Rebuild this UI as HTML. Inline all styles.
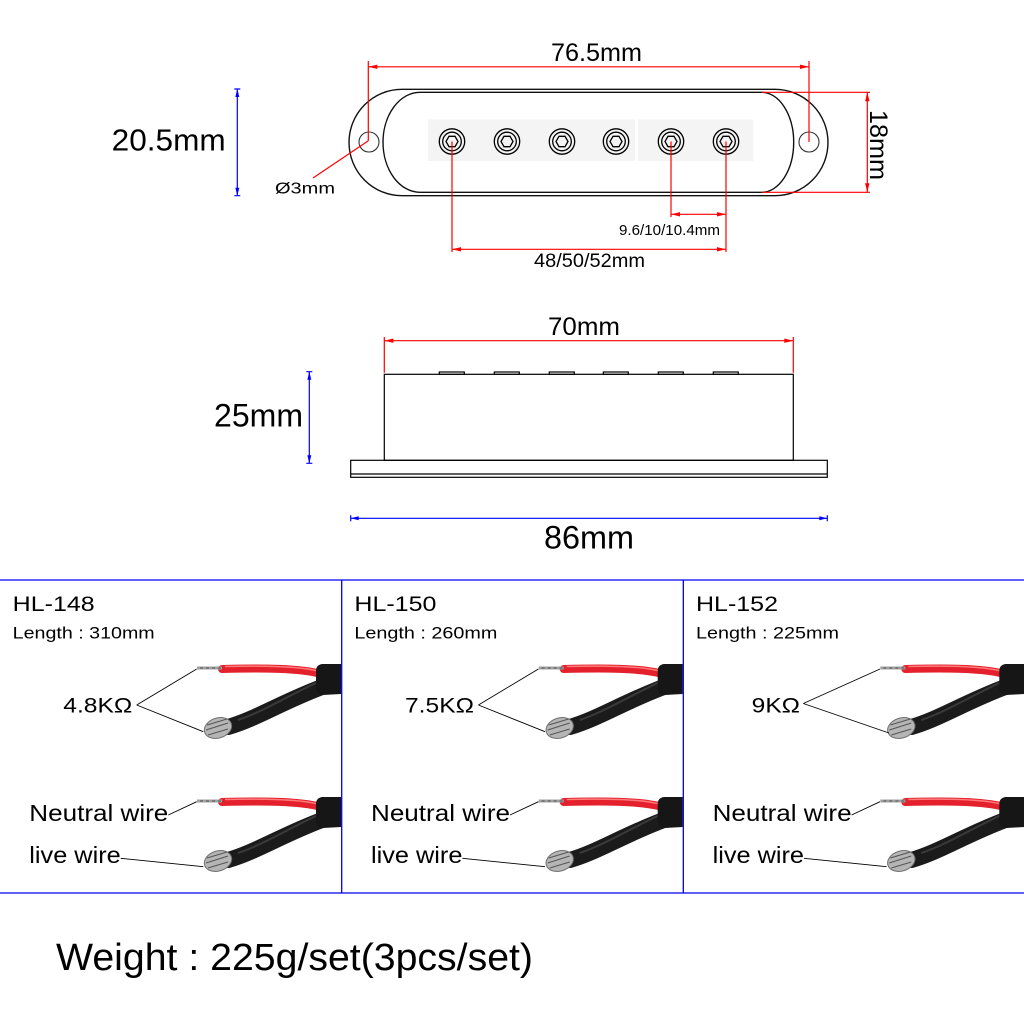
<!DOCTYPE html>
<html><head><meta charset="utf-8"><style>
html,body{margin:0;padding:0;background:#fff;}
svg{display:block}
text{font-family:"Liberation Sans","Noto Sans CJK SC",sans-serif;fill:#000}
</style></head><body>
<svg width="1024" height="1024" viewBox="0 0 1024 1024" xmlns="http://www.w3.org/2000/svg">
<rect width="1024" height="1024" fill="#fff"/>

<!-- ===== TOP VIEW ===== -->
<rect x="428" y="119.3" width="207" height="41.7" fill="#f4f4f4"/>
<rect x="638" y="119.3" width="115.3" height="41.7" fill="#f4f4f4"/>
<path d="M402 89.3 H775 A53 53.2 0 0 1 775 195.7 H402 A53 53.2 0 0 1 402 89.3 Z" fill="none" stroke="#111" stroke-width="1.4"/>
<path d="M420 92.3 H761.7 A32 50 0 0 1 761.7 192.3 H420 A37 50 0 0 1 420 92.3 Z" fill="none" stroke="#111" stroke-width="1.4"/>
<circle cx="369" cy="142" r="10" fill="none" stroke="#333" stroke-width="1.1"/>
<circle cx="809" cy="142" r="10" fill="none" stroke="#333" stroke-width="1.1"/>
<g fill="none" stroke="#000" stroke-width="1.3">
<circle cx="452" cy="141.5" r="12.7"/><circle cx="452" cy="141.5" r="9.3"/>
<polygon points="458,141.5 455,146.7 449,146.7 446,141.5 449,136.3 455,136.3"/>
<circle cx="507" cy="141.5" r="12.7"/><circle cx="507" cy="141.5" r="9.3"/>
<polygon points="513,141.5 510,146.7 504,146.7 501,141.5 504,136.3 510,136.3"/>
<circle cx="562" cy="141.5" r="12.7"/><circle cx="562" cy="141.5" r="9.3"/>
<polygon points="568,141.5 565,146.7 559,146.7 556,141.5 559,136.3 565,136.3"/>
<circle cx="616" cy="141.5" r="12.7"/><circle cx="616" cy="141.5" r="9.3"/>
<polygon points="622,141.5 619,146.7 613,146.7 610,141.5 613,136.3 619,136.3"/>
<circle cx="671" cy="141.5" r="12.7"/><circle cx="671" cy="141.5" r="9.3"/>
<polygon points="677,141.5 674,146.7 668,146.7 665,141.5 668,136.3 674,136.3"/>
<circle cx="726" cy="141.5" r="12.7"/><circle cx="726" cy="141.5" r="9.3"/>
<polygon points="732,141.5 729,146.7 723,146.7 720,141.5 723,136.3 729,136.3"/>
</g>

<!-- red dimensions top -->
<g stroke="#f00" stroke-width="1.2" fill="none">
<path d="M368.3 61 V141 M809 61 V142 M368.3 66.8 H809"/>
<path d="M368 141 L313 178"/>
<path d="M452 141.5 V252 M726 141.5 V252 M452 249.3 H726"/>
<path d="M671 141.5 V217 M671 214.3 H726"/>
<path d="M761.7 92.3 H870 M761.7 192.3 H870 M867.3 92.3 V192.3"/>
</g>
<g fill="#f00">
<path d="M368.3 66.8 L377.3 64.6 L377.3 69 Z"/><path d="M809 66.8 L800 64.6 L800 69 Z"/>
<path d="M452 249.3 L461 247.1 L461 251.5 Z"/><path d="M726 249.3 L717 247.1 L717 251.5 Z"/>
<path d="M671 214.3 L680 212.1 L680 216.5 Z"/><path d="M726 214.3 L717 212.1 L717 216.5 Z"/>
<path d="M867.3 92.3 L865.1 101.3 L869.5 101.3 Z"/><path d="M867.3 192.3 L865.1 183.3 L869.5 183.3 Z"/>
</g>

<text x="551" y="61" font-size="25" textLength="91" lengthAdjust="spacingAndGlyphs">76.5mm</text>
<text x="275" y="193.3" font-size="16" textLength="60" lengthAdjust="spacingAndGlyphs">Ø3mm</text>
<text x="111.7" y="150.7" font-size="31" textLength="114" lengthAdjust="spacingAndGlyphs">20.5mm</text>
<text x="870" y="110" font-size="25" textLength="70" lengthAdjust="spacingAndGlyphs" transform="rotate(90 870 110)">18mm</text>
<text x="619" y="235" font-size="15" textLength="101" lengthAdjust="spacingAndGlyphs">9.6/10/10.4mm</text>
<text x="534" y="267" font-size="19" textLength="111" lengthAdjust="spacingAndGlyphs">48/50/52mm</text>

<!-- blue dims -->
<g stroke="#00f" stroke-width="1.2" fill="none">
<path d="M237.3 89 V195.7 M234.3 89 H240.3 M234.3 195.7 H240.3"/>
<path d="M309.3 371.7 V463.3 M306.3 371.7 H312.3 M306.3 463.3 H312.3"/>
<path d="M350.7 518.3 H827.3 M350.7 515.3 V521.3 M827.3 515.3 V521.3"/>
</g>
<g fill="#00f">
<path d="M237.3 89 L235.3 97 L239.3 97 Z"/><path d="M237.3 195.7 L235.3 187.7 L239.3 187.7 Z"/>
<path d="M309.3 371.7 L307.3 379.7 L311.3 379.7 Z"/><path d="M309.3 463.3 L307.3 455.3 L311.3 455.3 Z"/>
<path d="M350.7 518.3 L358.7 516.3 L358.7 520.3 Z"/><path d="M827.3 518.3 L819.3 516.3 L819.3 520.3 Z"/>
</g>

<!-- ===== SIDE VIEW ===== -->
<g stroke="#f00" stroke-width="1.2" fill="none">
<path d="M384.3 337 V372.7 M793.3 337 V372.7 M384.3 340.7 H793.3"/>
</g>
<g fill="#f00">
<path d="M384.3 340.7 L393.3 338.5 L393.3 342.9 Z"/><path d="M793.3 340.7 L784.3 338.5 L784.3 342.9 Z"/>
</g>
<g fill="none" stroke="#000" stroke-width="1.2">
<rect x="439.3" y="372" width="25" height="2.3"/>
<rect x="494.3" y="372" width="25" height="2.3"/>
<rect x="549.3" y="372" width="25" height="2.3"/>
<rect x="603.3" y="372" width="25" height="2.3"/>
<rect x="658.3" y="372" width="25" height="2.3"/>
<rect x="713.3" y="372" width="25" height="2.3"/>
<rect x="384.3" y="374.3" width="409" height="86"/>
<rect x="350.7" y="460.3" width="476.6" height="17"/>
<path d="M350.7 474 H827.3"/>
</g>
<text x="548" y="335" font-size="25" textLength="72" lengthAdjust="spacingAndGlyphs">70mm</text>
<text x="214" y="426.7" font-size="32" textLength="89" lengthAdjust="spacingAndGlyphs">25mm</text>
<text x="544" y="548.5" font-size="32" textLength="90" lengthAdjust="spacingAndGlyphs">86mm</text>

<!-- ===== GRID ===== -->
<g stroke="#0000ee" stroke-width="1.3" fill="none">
<path d="M0 580 H1024 M0 893 H1024 M341.7 580 V893 M683.3 580 V893"/>
</g>

<!-- ===== WIRES ===== -->
<g>
<path d="M228 727 C256 719 282 702 322 687" stroke="#1b1b1b" stroke-width="16" fill="none" stroke-linecap="round"/>
<path d="M238 720 C262 712 286 697 318 682" stroke="#505050" stroke-width="2" fill="none" opacity=".6"/>
<path d="M222 669 C262 668 300 668 321 674" stroke="#e3202b" stroke-width="8" fill="none" stroke-linecap="round"/>
<path d="M225 666.5 C262 665.5 298 666 318 671" stroke="#ff7a7a" stroke-width="1.5" fill="none"/>
<path d="M341 664 L322 664 Q316 665 316 671 L316 689 Q317 695 323 695 L341 694 Z" fill="#161616"/>
<path d="M197 668 L222 668" stroke="#a0a0a0" stroke-width="3"/>
<path d="M200 668 h3 M206 668 h3 M212 668 h3 M218 668 h3" stroke="#555" stroke-width="1"/>
<ellipse cx="218" cy="728" rx="14" ry="10" transform="rotate(-18 218 728)" fill="#b5b5b5" stroke="#707070"/>
<path d="M207 725 l20 -6 M206 730 l22 -7 M208 735 l20 -6" stroke="#555" stroke-width="1"/>
</g>
<g transform="translate(341.7 0)">
<path d="M228 727 C256 719 282 702 322 687" stroke="#1b1b1b" stroke-width="16" fill="none" stroke-linecap="round"/>
<path d="M238 720 C262 712 286 697 318 682" stroke="#505050" stroke-width="2" fill="none" opacity=".6"/>
<path d="M222 669 C262 668 300 668 321 674" stroke="#e3202b" stroke-width="8" fill="none" stroke-linecap="round"/>
<path d="M225 666.5 C262 665.5 298 666 318 671" stroke="#ff7a7a" stroke-width="1.5" fill="none"/>
<path d="M341 664 L322 664 Q316 665 316 671 L316 689 Q317 695 323 695 L341 694 Z" fill="#161616"/>
<path d="M197 668 L222 668" stroke="#a0a0a0" stroke-width="3"/>
<path d="M200 668 h3 M206 668 h3 M212 668 h3 M218 668 h3" stroke="#555" stroke-width="1"/>
<ellipse cx="218" cy="728" rx="14" ry="10" transform="rotate(-18 218 728)" fill="#b5b5b5" stroke="#707070"/>
<path d="M207 725 l20 -6 M206 730 l22 -7 M208 735 l20 -6" stroke="#555" stroke-width="1"/>
</g>
<g transform="translate(683.3 0)">
<path d="M228 727 C256 719 282 702 322 687" stroke="#1b1b1b" stroke-width="16" fill="none" stroke-linecap="round"/>
<path d="M238 720 C262 712 286 697 318 682" stroke="#505050" stroke-width="2" fill="none" opacity=".6"/>
<path d="M222 669 C262 668 300 668 321 674" stroke="#e3202b" stroke-width="8" fill="none" stroke-linecap="round"/>
<path d="M225 666.5 C262 665.5 298 666 318 671" stroke="#ff7a7a" stroke-width="1.5" fill="none"/>
<path d="M341 664 L322 664 Q316 665 316 671 L316 689 Q317 695 323 695 L341 694 Z" fill="#161616"/>
<path d="M197 668 L222 668" stroke="#a0a0a0" stroke-width="3"/>
<path d="M200 668 h3 M206 668 h3 M212 668 h3 M218 668 h3" stroke="#555" stroke-width="1"/>
<ellipse cx="218" cy="728" rx="14" ry="10" transform="rotate(-18 218 728)" fill="#b5b5b5" stroke="#707070"/>
<path d="M207 725 l20 -6 M206 730 l22 -7 M208 735 l20 -6" stroke="#555" stroke-width="1"/>
</g>
<g transform="translate(0 133)">
<path d="M228 727 C256 719 282 702 322 687" stroke="#1b1b1b" stroke-width="16" fill="none" stroke-linecap="round"/>
<path d="M238 720 C262 712 286 697 318 682" stroke="#505050" stroke-width="2" fill="none" opacity=".6"/>
<path d="M222 669 C262 668 300 668 321 674" stroke="#e3202b" stroke-width="8" fill="none" stroke-linecap="round"/>
<path d="M225 666.5 C262 665.5 298 666 318 671" stroke="#ff7a7a" stroke-width="1.5" fill="none"/>
<path d="M341 664 L322 664 Q316 665 316 671 L316 689 Q317 695 323 695 L341 694 Z" fill="#161616"/>
<path d="M197 668 L222 668" stroke="#a0a0a0" stroke-width="3"/>
<path d="M200 668 h3 M206 668 h3 M212 668 h3 M218 668 h3" stroke="#555" stroke-width="1"/>
<ellipse cx="218" cy="728" rx="14" ry="10" transform="rotate(-18 218 728)" fill="#b5b5b5" stroke="#707070"/>
<path d="M207 725 l20 -6 M206 730 l22 -7 M208 735 l20 -6" stroke="#555" stroke-width="1"/>
</g>
<g transform="translate(341.7 133)">
<path d="M228 727 C256 719 282 702 322 687" stroke="#1b1b1b" stroke-width="16" fill="none" stroke-linecap="round"/>
<path d="M238 720 C262 712 286 697 318 682" stroke="#505050" stroke-width="2" fill="none" opacity=".6"/>
<path d="M222 669 C262 668 300 668 321 674" stroke="#e3202b" stroke-width="8" fill="none" stroke-linecap="round"/>
<path d="M225 666.5 C262 665.5 298 666 318 671" stroke="#ff7a7a" stroke-width="1.5" fill="none"/>
<path d="M341 664 L322 664 Q316 665 316 671 L316 689 Q317 695 323 695 L341 694 Z" fill="#161616"/>
<path d="M197 668 L222 668" stroke="#a0a0a0" stroke-width="3"/>
<path d="M200 668 h3 M206 668 h3 M212 668 h3 M218 668 h3" stroke="#555" stroke-width="1"/>
<ellipse cx="218" cy="728" rx="14" ry="10" transform="rotate(-18 218 728)" fill="#b5b5b5" stroke="#707070"/>
<path d="M207 725 l20 -6 M206 730 l22 -7 M208 735 l20 -6" stroke="#555" stroke-width="1"/>
</g>
<g transform="translate(683.3 133)">
<path d="M228 727 C256 719 282 702 322 687" stroke="#1b1b1b" stroke-width="16" fill="none" stroke-linecap="round"/>
<path d="M238 720 C262 712 286 697 318 682" stroke="#505050" stroke-width="2" fill="none" opacity=".6"/>
<path d="M222 669 C262 668 300 668 321 674" stroke="#e3202b" stroke-width="8" fill="none" stroke-linecap="round"/>
<path d="M225 666.5 C262 665.5 298 666 318 671" stroke="#ff7a7a" stroke-width="1.5" fill="none"/>
<path d="M341 664 L322 664 Q316 665 316 671 L316 689 Q317 695 323 695 L341 694 Z" fill="#161616"/>
<path d="M197 668 L222 668" stroke="#a0a0a0" stroke-width="3"/>
<path d="M200 668 h3 M206 668 h3 M212 668 h3 M218 668 h3" stroke="#555" stroke-width="1"/>
<ellipse cx="218" cy="728" rx="14" ry="10" transform="rotate(-18 218 728)" fill="#b5b5b5" stroke="#707070"/>
<path d="M207 725 l20 -6 M206 730 l22 -7 M208 735 l20 -6" stroke="#555" stroke-width="1"/>
</g>

<!-- leaders -->
<g stroke="#000" stroke-width="0.9" fill="none">
<path d="M136.7 705 L196.7 669 M136.7 705 L203.3 731.7 M168.3 815 L196.7 801.7 M120.7 858.3 L203.3 866.7"/>
<path d="M478.4 705 L538.4 669 M478.4 705 L545 731.7 M510 815 L538.4 801.7 M462.4 858.3 L545 866.7"/>
<path d="M803.3 703.5 L880 669 M803.3 703.5 L889 733 M851.6 815 L880 801.7 M804 858.3 L886.6 866.7"/>
</g>

<!-- panel texts -->
<text x="12.7" y="611" font-size="21" textLength="82" lengthAdjust="spacingAndGlyphs">HL-148</text>
<text x="12.7" y="638.3" font-size="17" textLength="142" lengthAdjust="spacingAndGlyphs">Length : 310mm</text>
<text x="63.3" y="712.7" font-size="21" textLength="69" lengthAdjust="spacingAndGlyphs">4.8KΩ</text>
<text x="29.3" y="821" font-size="23" textLength="139" lengthAdjust="spacingAndGlyphs">Neutral wire</text>
<text x="29.3" y="863" font-size="23" textLength="91.4" lengthAdjust="spacingAndGlyphs">live wire</text>

<text x="354.4" y="611" font-size="21" textLength="82" lengthAdjust="spacingAndGlyphs">HL-150</text>
<text x="354.4" y="638.3" font-size="17" textLength="143" lengthAdjust="spacingAndGlyphs">Length : 260mm</text>
<text x="405" y="712.7" font-size="21" textLength="69" lengthAdjust="spacingAndGlyphs">7.5KΩ</text>
<text x="371" y="821" font-size="23" textLength="139" lengthAdjust="spacingAndGlyphs">Neutral wire</text>
<text x="371" y="863" font-size="23" textLength="91.4" lengthAdjust="spacingAndGlyphs">live wire</text>

<text x="696" y="611" font-size="21" textLength="82" lengthAdjust="spacingAndGlyphs">HL-152</text>
<text x="696" y="638.3" font-size="17" textLength="143" lengthAdjust="spacingAndGlyphs">Length : 225mm</text>
<text x="751.7" y="712.7" font-size="21" textLength="48.3" lengthAdjust="spacingAndGlyphs">9KΩ</text>
<text x="712.6" y="821" font-size="23" textLength="139" lengthAdjust="spacingAndGlyphs">Neutral wire</text>
<text x="712.6" y="863" font-size="23" textLength="91.4" lengthAdjust="spacingAndGlyphs">live wire</text>

<!-- weight -->
<text x="56" y="970" font-size="38" textLength="477" lengthAdjust="spacingAndGlyphs">Weight : 225g/set(3pcs/set)</text>
</svg>
</body></html>
